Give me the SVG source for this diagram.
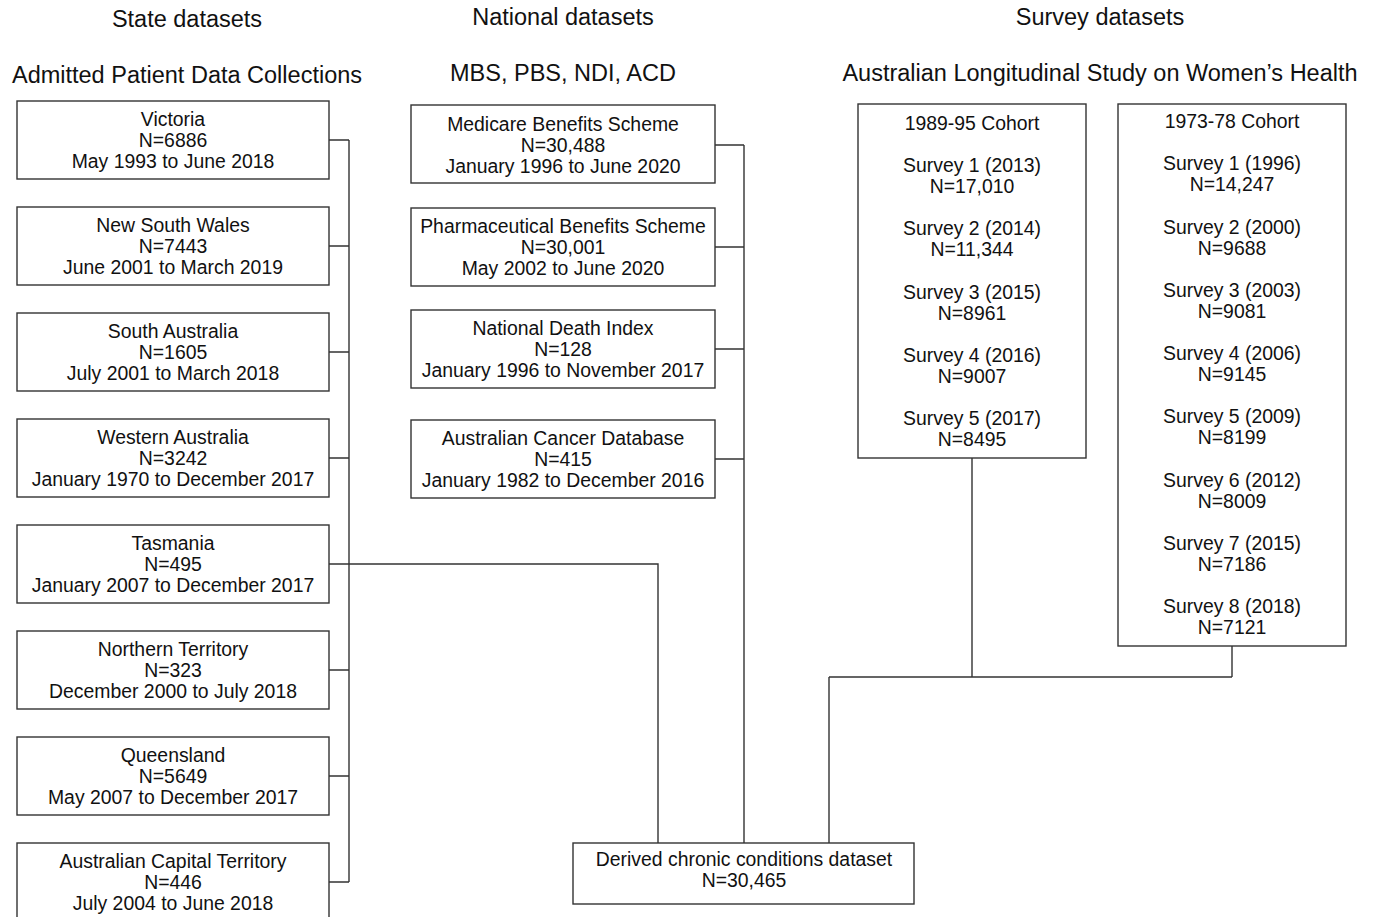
<svg xmlns="http://www.w3.org/2000/svg" width="1374" height="917" viewBox="0 0 1374 917">
<style>
.b{fill:#fff;stroke:#333;stroke-width:1.4}
.t{font-family:"Liberation Sans",Arial,sans-serif;font-size:19.4px;fill:#111;text-anchor:middle;dominant-baseline:central}
.h{font-family:"Liberation Sans",Arial,sans-serif;font-size:23.5px;fill:#111;text-anchor:middle;dominant-baseline:central}
.c{fill:none;stroke:#333;stroke-width:1.4}
</style>
<rect width="1374" height="917" fill="#fff"/>
<g id="headers">
<text class="h" x="187" y="19">State datasets</text>
<text class="h" x="187" y="75">Admitted Patient Data Collections</text>
<text class="h" x="563" y="17">National datasets</text>
<text class="h" x="563" y="73">MBS, PBS, NDI, ACD</text>
<text class="h" x="1100" y="17">Survey datasets</text>
<text class="h" x="1100" y="73">Australian Longitudinal Study on Women’s Health</text>
</g>
<g id="connectors">
<path class="c" d="M329 140H349M329 246H349M329 352H349M329 458H349M329 564H349M329 670H349M329 776H349M329 882H349M349 140V882"/>
<path class="c" d="M349 564H658V843"/>
<path class="c" d="M715 145H744M715 247H744M715 349H744M715 459H744M744 145V843"/>
<path class="c" d="M972 458V677M1232 646V677M829 677H1232M829 677V843"/>
</g>
<g id="victoria"><rect class="b" x="17" y="101" width="312" height="78"/><text class="t" x="173" y="119">Victoria</text><text class="t" x="173" y="140">N=6886</text><text class="t" x="173" y="161">May 1993 to June 2018</text></g>
<g id="nsw"><rect class="b" x="17" y="207" width="312" height="78"/><text class="t" x="173" y="225">New South Wales</text><text class="t" x="173" y="246">N=7443</text><text class="t" x="173" y="267">June 2001 to March 2019</text></g>
<g id="sa"><rect class="b" x="17" y="313" width="312" height="78"/><text class="t" x="173" y="331">South Australia</text><text class="t" x="173" y="352">N=1605</text><text class="t" x="173" y="373">July 2001 to March 2018</text></g>
<g id="wa"><rect class="b" x="17" y="419" width="312" height="78"/><text class="t" x="173" y="437">Western Australia</text><text class="t" x="173" y="458">N=3242</text><text class="t" x="173" y="479">January 1970 to December 2017</text></g>
<g id="tas"><rect class="b" x="17" y="525" width="312" height="78"/><text class="t" x="173" y="543">Tasmania</text><text class="t" x="173" y="564">N=495</text><text class="t" x="173" y="585">January 2007 to December 2017</text></g>
<g id="nt"><rect class="b" x="17" y="631" width="312" height="78"/><text class="t" x="173" y="649">Northern Territory</text><text class="t" x="173" y="670">N=323</text><text class="t" x="173" y="691">December 2000 to July 2018</text></g>
<g id="qld"><rect class="b" x="17" y="737" width="312" height="78"/><text class="t" x="173" y="755">Queensland</text><text class="t" x="173" y="776">N=5649</text><text class="t" x="173" y="797">May 2007 to December 2017</text></g>
<g id="act"><rect class="b" x="17" y="843" width="312" height="80"/><text class="t" x="173" y="861">Australian Capital Territory</text><text class="t" x="173" y="882">N=446</text><text class="t" x="173" y="903">July 2004 to June 2018</text></g>
<g id="mbs"><rect class="b" x="411" y="105" width="304" height="78"/><text class="t" x="563" y="124">Medicare Benefits Scheme</text><text class="t" x="563" y="145">N=30,488</text><text class="t" x="563" y="166">January 1996 to June 2020</text></g>
<g id="pbs"><rect class="b" x="411" y="208" width="304" height="78"/><text class="t" x="563" y="226">Pharmaceutical Benefits Scheme</text><text class="t" x="563" y="247">N=30,001</text><text class="t" x="563" y="268">May 2002 to June 2020</text></g>
<g id="ndi"><rect class="b" x="411" y="310" width="304" height="78"/><text class="t" x="563" y="328">National Death Index</text><text class="t" x="563" y="349">N=128</text><text class="t" x="563" y="370">January 1996 to November 2017</text></g>
<g id="acd"><rect class="b" x="411" y="420" width="304" height="78"/><text class="t" x="563" y="438">Australian Cancer Database</text><text class="t" x="563" y="459">N=415</text><text class="t" x="563" y="480">January 1982 to December 2016</text></g>
<g id="cohort8995"><rect class="b" x="858" y="104" width="228" height="354"/>
<text class="t" x="972" y="123">1989-95 Cohort</text>
<text class="t" x="972" y="165">Survey 1 (2013)</text><text class="t" x="972" y="186">N=17,010</text>
<text class="t" x="972" y="228">Survey 2 (2014)</text><text class="t" x="972" y="249">N=11,344</text>
<text class="t" x="972" y="292">Survey 3 (2015)</text><text class="t" x="972" y="313">N=8961</text>
<text class="t" x="972" y="355">Survey 4 (2016)</text><text class="t" x="972" y="376">N=9007</text>
<text class="t" x="972" y="418">Survey 5 (2017)</text><text class="t" x="972" y="439">N=8495</text>
</g>
<g id="cohort7378"><rect class="b" x="1118" y="104" width="228" height="542"/>
<text class="t" x="1232" y="121">1973-78 Cohort</text>
<text class="t" x="1232" y="163">Survey 1 (1996)</text><text class="t" x="1232" y="184">N=14,247</text>
<text class="t" x="1232" y="227">Survey 2 (2000)</text><text class="t" x="1232" y="248">N=9688</text>
<text class="t" x="1232" y="290">Survey 3 (2003)</text><text class="t" x="1232" y="311">N=9081</text>
<text class="t" x="1232" y="353">Survey 4 (2006)</text><text class="t" x="1232" y="374">N=9145</text>
<text class="t" x="1232" y="416">Survey 5 (2009)</text><text class="t" x="1232" y="437">N=8199</text>
<text class="t" x="1232" y="480">Survey 6 (2012)</text><text class="t" x="1232" y="501">N=8009</text>
<text class="t" x="1232" y="543">Survey 7 (2015)</text><text class="t" x="1232" y="564">N=7186</text>
<text class="t" x="1232" y="606">Survey 8 (2018)</text><text class="t" x="1232" y="627">N=7121</text>
</g>
<g id="derived"><rect class="b" x="573" y="843" width="341" height="61"/><text class="t" x="744" y="859">Derived chronic conditions dataset</text><text class="t" x="744" y="880">N=30,465</text></g>
</svg>
